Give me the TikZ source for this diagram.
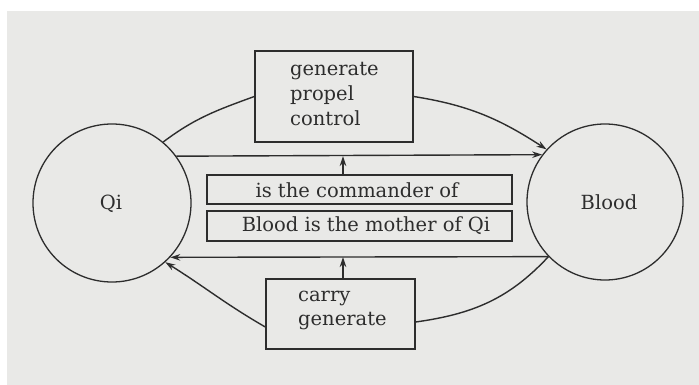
\documentclass[tikz,border=0pt]{standalone}
\usepackage{fontspec}
\setmainfont{DejaVu Serif}
\usetikzlibrary{arrows.meta}
\definecolor{paper}{RGB}{233,233,231}
\definecolor{ink}{RGB}{45,45,45}
\definecolor{txt}{RGB}{45,45,45}
\tikzset{
  arr/.style={-{Stealth[length=10pt,width=6.5pt]}},
  ln/.style={draw=ink,line width=1.4pt},
  boxn/.style={draw=ink,line width=1.4pt,inner sep=0pt},
  circ/.style={circle,draw=ink,line width=1.3pt,inner sep=0pt},
  lab/.style={text=txt,font=\fontsize{19.5}{25}\selectfont,inner sep=0pt},
}
\begin{document}
\begin{tikzpicture}[x=1pt,y=-1pt]
\useasboundingbox (0,0) rectangle (699,385);
\fill[paper] (7,11) rectangle (699,385);
% circles
\node[circ,minimum size=158pt] (qi) at (112,203) {};
\node[lab] (qit) at (111,204) {Qi};
\node[circ,minimum size=156pt] (blood) at (605,202) {};
\node[lab] (bloodt) at (609,202) {Blood};
% boxes
\node[boxn,minimum width=158pt,minimum height=91pt] (top) at (334,96.5) {};
\node[lab,anchor=west,align=left] (topt) at (290,94) {generate\\propel\\control};
\node[boxn,minimum width=149pt,minimum height=70pt] (bot) at (340.5,314) {};
\node[lab,anchor=west,align=left,font=\fontsize{19.5}{24}\selectfont] (bott) at (298,310) {carry\\generate};
\node[boxn,minimum width=305pt,minimum height=29pt] (cmd) at (359.5,189.5) {};
\node[lab] (cmdt) at (357,190) {is the commander of};
\node[boxn,minimum width=305pt,minimum height=30pt] (mot) at (359.5,226) {};
\node[lab] (mott) at (366,226) {Blood is the mother of Qi};
% helper coordinates
\coordinate (u) at (343,156);
\coordinate (l) at (343,257);
% straight arrows
\draw[ln,arr] (qi.36.5) -- (blood.143.9);
\draw[ln,arr] (blood.224.8) -- (qi.-43.1);
\draw[ln,arr] (cmd.north -| u) -- (u);
\draw[ln,arr] (bot.north -| l) -- (l);
% curved
\draw[ln] (qi.50) to[out=37,in=200] (top.west);
\draw[ln,arr] (top.east) to[out=-9,in=147] (blood.138);
\draw[ln] (blood.224.8) to[out=227,in=8] ([yshift=-8pt]bot.east);
\draw[ln,arr] ([yshift=-13pt]bot.west) to[out=150,in=-32] (qi.-48);
\end{tikzpicture}
\end{document}
